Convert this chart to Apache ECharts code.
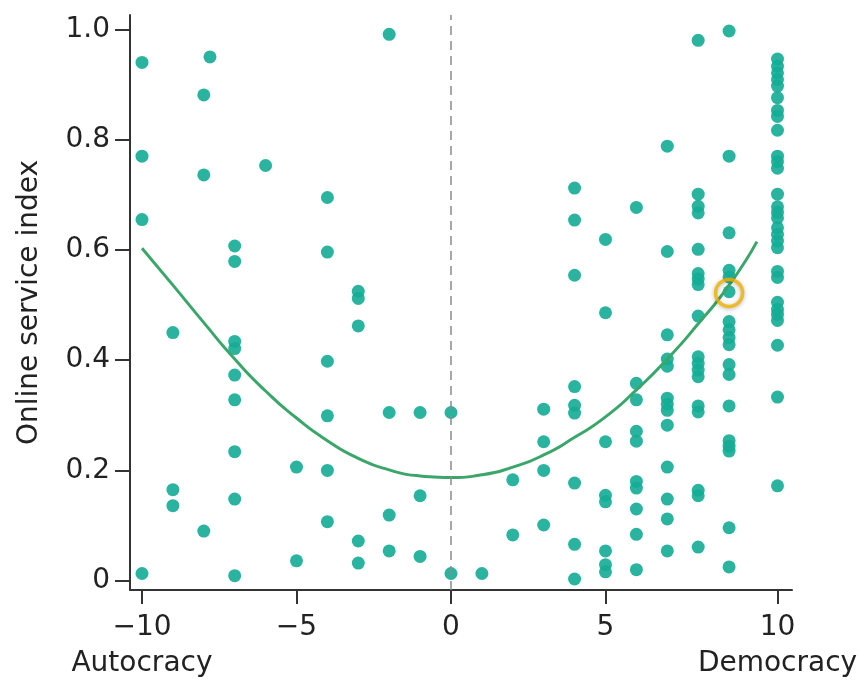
<!DOCTYPE html>
<html>
<head>
<meta charset="utf-8">
<script src="https://cdn.jsdelivr.net/npm/echarts@6/dist/echarts.min.js"></script>
<style>html,body{margin:0;padding:0;background:#fff}#chart{width:862px;height:685px}</style>
</head>
<body>
<div id="chart"></div>
<script>
// x ticks and labels
const xTickValues = [-10, -5, 0, 5];
const xTickLabels = ['\u221210\nAutocracy', '\u22125', '0', '5'];
const xEndTickValues = [10];
const xEndTickLabels = ['10\nDemocracy'];
const yTickValues = [0, 0.2, 0.4, 0.6, 0.8, 1.0];
const yTickLabels = ['0', '0.2', '0.4', '0.6', '0.8', '1.0'];
const yAxisTitle = 'Online service index';

// [democracy score, online service index]
const autocracyPoints = [
  [-10, 0.94], [-10, 0.77], [-10, 0.655], [-10, 0.013],
  [-9, 0.45], [-9, 0.165], [-9, 0.136],
  [-7.8, 0.95], [-8, 0.881], [-8, 0.736], [-8, 0.09],
  [-7, 0.607], [-7, 0.579], [-7, 0.434], [-7, 0.421], [-7, 0.373], [-7, 0.328], [-7, 0.234], [-7, 0.148], [-7, 0.009],
  [-6, 0.753],
  [-5, 0.206], [-5, 0.036],
  [-4, 0.695], [-4, 0.596], [-4, 0.398], [-4, 0.299], [-4, 0.2], [-4, 0.107],
  [-3, 0.525], [-3, 0.512], [-3, 0.462], [-3, 0.072], [-3, 0.032],
  [-2, 0.991], [-2, 0.305], [-2, 0.119], [-2, 0.054],
  [-1, 0.305], [-1, 0.154], [-1, 0.044]
];
const middlePoints = [
  [0, 0.305], [0, 0.013], [1, 0.013], [2, 0.183], [2, 0.083],
  [3, 0.311], [3, 0.252], [3, 0.2], [3, 0.101],
  [4, 0.712], [4, 0.654], [4, 0.554], [4, 0.352], [4, 0.318], [4, 0.304], [4, 0.177], [4, 0.066], [4, 0.003],
  [5, 0.619], [5, 0.486], [5, 0.252], [5, 0.155], [5, 0.143], [5, 0.054], [5, 0.029], [5, 0.016]
];
const democracyPoints = [
  [6, 0.677], [6, 0.358], [6, 0.328], [6, 0.271], [6, 0.253], [6, 0.18], [6, 0.168], [6, 0.13], [6, 0.084], [6, 0.02],
  [7, 0.788], [7, 0.597], [7, 0.446], [7, 0.402], [7, 0.389], [7, 0.331], [7, 0.32], [7, 0.309], [7, 0.282], [7, 0.206], [7, 0.148], [7, 0.112], [7, 0.054],
  [8, 0.98], [8, 0.701], [8, 0.679], [8, 0.667], [8, 0.601], [8, 0.557], [8, 0.547], [8, 0.537], [8, 0.48], [8, 0.406], [8, 0.394], [8, 0.382], [8, 0.37], [8, 0.317], [8, 0.306], [8, 0.164], [8, 0.154], [8, 0.061],
  [9, 0.997], [9, 0.77], [9, 0.631], [9, 0.563], [9, 0.551], [9, 0.524], [9, 0.47], [9, 0.455], [9, 0.441], [9, 0.428], [9, 0.392], [9, 0.374], [9, 0.317], [9, 0.254], [9, 0.244], [9, 0.235], [9, 0.096], [9, 0.025]
];
const fullDemocracyX = 10;
const fullDemocracyY = [0.946, 0.933, 0.921, 0.909, 0.897, 0.876, 0.853, 0.842, 0.817, 0.77, 0.76, 0.748,
  0.701, 0.678, 0.668, 0.658, 0.64, 0.628, 0.616, 0.604, 0.561, 0.55, 0.505, 0.492, 0.483, 0.472, 0.427, 0.333, 0.172];

// fitted curve
const fitX = [-10, -9, -8, -7, -6, -5, -4, -3, -2, -1, 0, 1, 2, 3, 4, 5, 6, 7, 8, 9, 9.9];
const fitY = [0.603, 0.536, 0.468, 0.402, 0.344, 0.295, 0.254, 0.222, 0.201, 0.19, 0.187, 0.192, 0.206, 0.228, 0.26, 0.297, 0.346, 0.402, 0.466, 0.536, 0.615];

// highlighted country
const highlightPoint = [9, 0.522];

const FONT = 'DejaVu Sans';
const dotColor = 'rgb(19,172,149)';
const dotStyle = { color: dotColor, opacity: 0.9 };

const chart = echarts.init(document.getElementById('chart'), null, { renderer: 'canvas' });
chart.setOption({
  animation: false,
  backgroundColor: '#fff',
  grid: { left: 130, right: 70, top: 15, bottom: 95 },
  xAxis: [
    {
      type: 'value', position: 'bottom', min: -10.388, max: 11.036,
      axisLine: { show: true, onZero: false, lineStyle: { color: '#333', width: 2 } },
      axisTick: { show: true, customValues: xTickValues, length: 14, lineStyle: { color: '#333', width: 2 } },
      axisLabel: {
        customValues: xTickValues,
        formatter: v => xTickLabels[xTickValues.indexOf(v)],
        fontFamily: FONT, fontSize: 28, color: '#222', lineHeight: 36, margin: 20
      },
      splitLine: { show: false }
    },
    {
      type: 'value', position: 'bottom', min: 0, max: 10.224,
      axisLine: { show: false, onZero: false },
      axisTick: { show: true, customValues: xEndTickValues, length: 14, lineStyle: { color: '#333', width: 2 } },
      axisLabel: {
        customValues: xEndTickValues,
        formatter: v => xEndTickLabels[xEndTickValues.indexOf(v)],
        fontFamily: FONT, fontSize: 28, color: '#222', lineHeight: 36, margin: 20
      },
      splitLine: { show: false }
    }
  ],
  yAxis: {
    type: 'value', min: -0.0169, max: 1.026,
    name: yAxisTitle, nameLocation: 'middle', nameGap: 86,
    nameTextStyle: { fontFamily: FONT, fontSize: 28, color: '#222' },
    axisLine: { show: true, onZero: false, lineStyle: { color: '#333', width: 2 } },
    axisTick: { show: true, customValues: yTickValues, length: 15, lineStyle: { color: '#333', width: 2 } },
    axisLabel: {
      customValues: yTickValues,
      formatter: v => yTickLabels[yTickValues.findIndex(t => Math.abs(t - v) < 1e-9)],
      fontFamily: FONT, fontSize: 28, color: '#222', margin: 20
    },
    splitLine: { show: false }
  },
  series: [
    {
      type: 'scatter', xAxisIndex: 0, symbolSize: 13, itemStyle: dotStyle, data: autocracyPoints, z: 3,
      markLine: {
        silent: true, symbol: 'none', label: { show: false },
        lineStyle: { color: '#8a8a8a', type: [9, 6], width: 1.5 },
        data: [{ xAxis: 0 }]
      }
    },
    { type: 'scatter', xAxisIndex: 0, symbolSize: 13, itemStyle: dotStyle, data: middlePoints, z: 3 },
    { type: 'scatter', xAxisIndex: 0, symbolSize: 13, itemStyle: dotStyle, data: democracyPoints, z: 3 },
    {
      type: 'scatter', xAxisIndex: 1, symbolSize: 13, itemStyle: dotStyle, z: 3,
      data: fullDemocracyY.map(y => [fullDemocracyX, y])
    },
    {
      type: 'line', xAxisIndex: 0, smooth: 0.6, symbol: 'none', z: 4,
      lineStyle: { color: '#3aa66a', width: 3 },
      data: fitX.map((x, i) => [x, fitY[i]])
    },
    {
      type: 'scatter', xAxisIndex: 0, symbol: 'circle', symbolSize: 27, z: 5,
      itemStyle: { color: 'rgba(0,0,0,0)', borderColor: '#f2b300', borderWidth: 3.5, shadowBlur: 4, shadowColor: 'rgba(0,0,0,0.35)', shadowOffsetY: 1 },
      data: [highlightPoint]
    }
  ]
});
</script>
</body>
</html>
